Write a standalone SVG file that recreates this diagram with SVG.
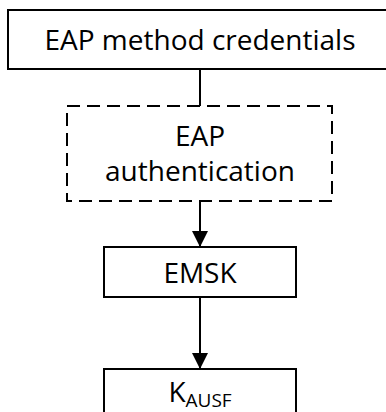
<svg xmlns="http://www.w3.org/2000/svg" width="386" height="412" viewBox="0 0 386 412">
<style>
.box{fill:#fff;stroke:#000;stroke-width:2}
.dash{fill:none;stroke:#000;stroke-width:2;stroke-dasharray:13 7}
.t{font-family:"Open Sans","Liberation Sans",sans-serif;font-size:28px;fill:#000;text-anchor:middle}
.c{stroke:#000;stroke-width:2;fill:none}
</style>
<defs>
<marker id="ah" markerWidth="16" markerHeight="16" viewBox="0 0 16 16" refX="16" refY="8" orient="auto" markerUnits="userSpaceOnUse">
<path d="M0,0 L16,8 L0,16 Z" fill="#000"/>
</marker>
</defs>
<g id="connectors">
<line class="c" x1="200" y1="69" x2="200" y2="106"/>
<line class="c" x1="200" y1="201" x2="200" y2="247" marker-end="url(#ah)"/>
<line class="c" x1="200" y1="297" x2="200" y2="369" marker-end="url(#ah)"/>
</g>
<g id="credentials">
<rect class="box" x="8" y="10" width="384" height="59"/>
<text class="t" x="200" y="50">EAP method credentials</text>
</g>
<g id="eap-auth">
<rect class="dash" x="67" y="106" width="265" height="95"/>
<text class="t" x="200" y="146">EAP</text>
<text class="t" x="200" y="181">authentication</text>
</g>
<g id="emsk">
<rect class="box" x="104" y="247" width="192" height="50"/>
<text class="t" x="200" y="283">EMSK</text>
</g>
<g id="kausf">
<rect class="box" x="104" y="369" width="192" height="60"/>
<text class="t" x="200" y="402">K<tspan font-size="19" dy="5">AUSF</tspan></text>
</g>
</svg>
